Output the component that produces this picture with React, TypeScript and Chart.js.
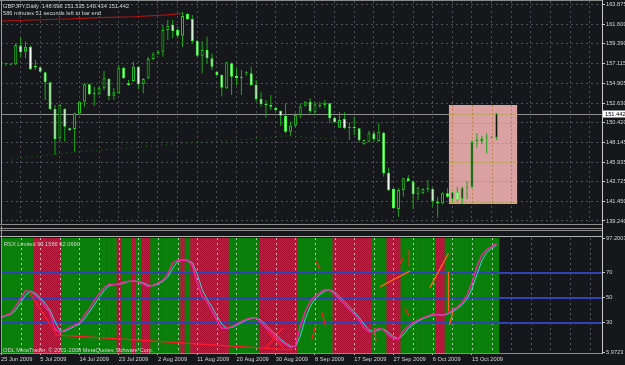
import React, { useEffect, useRef } from 'react';
import { Chart, registerables } from 'chart.js';
Chart.register(...registerables);

// ---------- price data (daily GBPJPY bars, oldest first) ----------
const opens = [156.95,157.03,157.03,157.03,159.15,158.46,159.03,156.78,156.69,156.12,
  154.98,151.96,148.63,151.96,149.76,149.69,151.46,152.79,154.76,153.73,
  153.62,154.30,155.36,153.47,153.73,156.65,154.87,155.13,156.76,154.76,
  155.44,157.63,158.27,158.46,160.92,161.49,160.92,160.28,162.74,162.17,
  159.68,158.01,158.65,157.71,156.19,155.82,154.30,157.14,155.74,155.44,
  156.00,156.00,154.68,153.09,152.52,152.41,152.11,151.73,151.20,149.38,
  150.06,151.27,152.33,152.79,151.58,152.30,152.41,152.60,150.97,149.84,
  150.82,149.86,149.84,149.76,147.94,148.25,149.19,148.32,149.27,144.72,
  142.90,140.60,142.76,144.09,143.71,142.27,142.38,142.87,142.87,141.44,
  141.25,142.38,141.74,142.50,141.74,143.00,143.03,148.25,148.25,148.70,
  148.70,148.696];
const highs = [158.35,157.14,157.10,159.41,160.09,159.60,159.15,157.52,156.76,156.19,
  155.06,152.41,152.49,152.03,149.84,151.54,152.86,154.87,154.83,154.49,
  154.57,156.27,155.44,154.30,156.95,156.72,155.25,157.33,156.84,155.44,
  157.90,158.39,158.65,161.49,162.06,162.06,161.19,162.99,162.82,162.63,
  159.79,159.68,160.17,158.27,156.27,155.89,157.33,157.25,156.57,156.38,
  156.27,156.76,155.25,153.92,152.98,153.55,152.18,151.80,152.60,150.52,
  151.46,152.60,152.86,153.17,152.79,152.79,152.98,152.67,151.08,151.58,
  151.58,150.44,151.08,149.76,148.50,149.46,149.46,150.33,149.38,145.30,
  142.95,142.95,144.16,144.46,143.90,143.14,142.95,143.90,142.95,142.00,
  142.50,142.95,142.57,143.14,143.14,143.78,148.44,149.19,148.93,149.19,
  148.93,151.535];
const lows = [155.82,156.87,156.90,156.95,157.90,157.71,156.38,156.38,156.12,152.98,
  151.84,146.73,148.25,148.25,149.46,147.11,151.27,152.22,153.55,152.33,
  153.55,154.11,152.98,152.98,153.66,155.36,154.60,155.06,154.23,153.73,
  155.36,157.52,158.09,157.90,159.79,159.98,159.98,159.03,162.06,159.41,
  157.90,156.00,157.14,156.38,155.74,153.36,154.23,153.55,154.68,153.55,
  155.74,154.60,152.79,152.22,150.97,151.84,151.73,150.06,149.19,148.93,
  149.84,150.90,152.22,151.46,151.27,152.03,152.03,150.33,150.33,149.80,
  149.69,148.44,149.00,148.17,147.90,148.17,148.25,148.25,144.27,142.65,
  140.60,139.73,142.00,143.71,140.60,141.63,142.30,142.50,140.87,139.62,
  141.13,141.81,141.51,141.44,141.13,141.74,142.95,147.57,147.94,146.92,
  148.63,148.434];
const closes = [157.33,157.05,157.00,159.22,158.39,159.03,156.50,156.72,156.19,154.98,
  151.96,148.55,152.41,149.95,149.57,151.46,152.79,154.76,153.62,153.62,
  154.38,155.44,153.43,153.85,156.65,155.44,154.68,156.76,154.76,155.36,
  157.63,158.16,158.46,160.92,161.42,160.81,160.28,162.51,162.17,159.68,
  158.01,158.65,157.71,156.76,155.82,154.38,157.25,155.63,155.44,155.63,
  156.01,154.68,153.09,152.49,152.41,152.22,151.84,151.20,149.38,150.06,
  151.27,152.22,152.79,151.73,152.49,152.41,152.67,150.90,150.44,150.71,
  149.76,149.82,149.80,148.44,148.44,149.19,148.51,149.38,144.65,142.76,
  140.68,142.76,144.09,143.78,142.27,143.03,142.87,142.85,141.44,141.25,
  142.38,142.00,142.50,141.63,143.03,143.05,148.25,148.51,148.63,148.81,
  148.81,151.442];

// upper red line and dotted dark-green trend (bar index, price)
const highLineBars = [0, 6.5, 13.4, 20.2, 27, 33.8, 36.9];
const highLineValues = [161.945, 162.06, 162.17, 162.32, 162.43, 162.63, 162.82];
const trendBars = [2.2, 6.5, 10, 13.5, 20.2, 23.6, 27.7, 31.8, 36.5, 41.2, 44.6, 50.1, 54.2, 57.5, 60.3, 63.6, 69];
const trendValues = [146.17, 146.54, 146.73, 146.99, 147.30, 147.41, 147.61, 147.79, 148.06, 148.17, 148.32, 148.52, 148.70, 148.89, 148.89, 148.63, 148.63];

// highlighted rectangle (bar index span, price span)
const boxBars = [91.3, 105.2];
const boxPrices = [141.17, 152.41];

// ---------- RSX sub-window ----------
const rsxMain = [35,36,37.3,43,49,55.5,55,52,48.2,43,
  37.5,25,22,24,26,28,30,36,41,47.5,
  53,58,60.8,60.3,61,62.3,63.2,63.4,62.6,61,
  58.8,60,61.8,64,69,78,80,80.2,79.8,76,
  62,51,46.5,39,32,25.5,25.5,26.8,28.8,31,
  32.8,34,34,30,26,22.5,18.5,15,12.5,10,
  11.5,27,38.8,46.8,51,54,56.5,56,52.8,48.7,
  45,40.8,36.5,32,26,22.5,23,25.5,24.2,20,
  17.5,17,23.5,27,30,32.3,34,35.3,36.7,36.3,
  36,37.5,40,42.5,46,52,62,75,84,88.5,
  90.8,93.1566];
const rsxSignal = [34,35.5,36.6,40,46,52,55.3,53.5,50,45.5,
  40,31,23.5,23,25,27,29,33,38.5,44,
  50,55.5,59.5,60.5,60.6,61.6,62.8,63.3,63,61.8,
  60,59.4,61,63,66.5,73.5,79,80.1,80,78,
  69,56.5,48.8,42.8,35.5,28.8,25.5,26.1,27.8,30,
  32,33.4,34,32,28,24.2,20.5,16.8,13.8,11.2,
  10.8,19,33,42.8,49,52.5,55.3,56.3,54.4,50.8,
  46.8,42.9,38.6,34.2,29,24.2,22.8,24.2,24.9,22,
  18.8,17.2,20.2,25.2,28.5,31.2,33.2,34.6,36,36.5,
  36.1,36.8,38.8,41.2,44.3,49,57,68.5,79.5,86.2,
  89.6,92.069];
const redZoneBars = [7,8,9,10,11,12,24,27,29,30,37,39,40,41,42,43,44,45,46,
  53,54,55,56,57,58,59,60,68,69,70,71,72,73,74,75,79,80,81,89,90];
// drawn divergence segments: [bar0, value0, bar1, value1]
const redSegments = [
  [5.6, 55.5, 11.2, 21.5], [11.0, 20.2, 59.3, 8.2], [53.8, 9.0, 57.5, 26.0], [54.2, 22.8, 57.6, 10.0],
  [63.3, 16.2, 64.2, 28.2], [64.2, 79.4, 65.1, 72.2], [65.4, 38.3, 66.2, 26.8], [76.2, 25.5, 76.4, 14.8],
  [81.3, 77.5, 82.0, 81.5], [83.2, 88.2, 83.2, 74.8], [82.3, 41.5, 83.2, 35.6]];
const orangeSegments = [
  [77.3, 58.8, 83.4, 71.4], [87.4, 58.0, 91.2, 85.5], [91.2, 70.8, 91.2, 39.4], [91.4, 28.2, 92.3, 41.5]];

// ---------- axes ----------
const barRange = [0, 122.5];
const priceRange = [139.126, 164.216];
const rsxRange = [5.73, 97.76];
const priceTicks = [163.875, 161.6, 159.39, 157.115, 154.905, 152.63, 150.42, 148.145, 145.935, 143.725, 141.45, 139.24];
const rsxTicks = [97.2003, 70, 50, 30, 5.9723];
const rsxTickLabels = ['97.2003', '70', '50', '30', '5.9723'];
const rsxLevels = [70, 50, 30];
const gridBars = [0,4,8,12,16,20,24,28,32,36,40,44,48,52,56,60,64,68,72,76,80,84,88,92,96,100,104,108,112,116,120];
const dateLabelBars = [0,8,16,24,32,40,48,56,64,72,80,88,96];
const dateLabels = ['25 Jun 2009','5 Jul 2009','14 Jul 2009','23 Jul 2009','2 Aug 2009','11 Aug 2009','20 Aug 2009','30 Aug 2009','8 Sep 2009','17 Sep 2009','27 Sep 2009','6 Oct 2009','15 Oct 2009'];

const FONT = '"Liberation Sans", Arial, sans-serif';
const TXT = '#d4d4d4';
const BG = '#15171a';
const GRID = '#4c4f56';

function hline(ctx: CanvasRenderingContext2D, x0: number, x1: number, y: number, color: string, w = 1) {
  ctx.strokeStyle = color; ctx.lineWidth = w;
  ctx.beginPath(); ctx.moveTo(x0, y); ctx.lineTo(x1, y); ctx.stroke();
}
function vline(ctx: CanvasRenderingContext2D, x: number, y0: number, y1: number, color: string, w = 1) {
  ctx.strokeStyle = color; ctx.lineWidth = w;
  ctx.beginPath(); ctx.moveTo(x, y0); ctx.lineTo(x, y1); ctx.stroke();
}

export default function App() {
  const topRef = useRef<HTMLCanvasElement>(null);
  const botRef = useRef<HTMLCanvasElement>(null);

  useEffect(() => {
    const last = closes.length - 1;
    const idx = closes.map((_, i) => i);
    const bull = idx.map(i => closes[i] >= opens[i]);

    const topDecor = {
      id: 'topDecor',
      beforeDatasetsDraw(chart: any) {
        const { ctx, chartArea: a, scales } = chart;
        const x = scales.x, y = scales.y;
        ctx.save();
        const pl = Math.round(y.getPixelForValue(closes[last])) + 0.5;
        hline(ctx, a.left, a.right, pl, '#8e8e8e');
        const bx0 = x.getPixelForValue(boxBars[0]), bx1 = x.getPixelForValue(boxBars[1]);
        const by0 = y.getPixelForValue(boxPrices[1]), by1 = y.getPixelForValue(boxPrices[0]);
        ctx.fillStyle = '#d9a1a1';
        ctx.fillRect(bx0, by0, bx1 - bx0, by1 - by0);
        ctx.beginPath(); ctx.rect(bx0, by0, bx1 - bx0, by1 - by0); ctx.clip();
        ctx.setLineDash([2, 2]);
        for (const g of gridBars) {
          const px = Math.round(x.getPixelForValue(g)) + 0.5;
          vline(ctx, px, by0, by1, '#c0844e');
        }
        for (const t of [...priceTicks, closes[last]]) {
          const py = Math.round(y.getPixelForValue(t)) + 0.5;
          hline(ctx, bx0, bx1, py, '#a9a53c');
        }
        ctx.restore();
      },
      afterDraw(chart: any) {
        const { ctx, chartArea: a, scales } = chart;
        const y = scales.y;
        ctx.save();
        hline(ctx, 0, a.right, 0.5, '#8a8a8a');
        vline(ctx, 1.5, 0, 225, '#9c9c9c');
        hline(ctx, 0, a.right, 224.5, '#8c8c8c');
        vline(ctx, a.right + 0.5, 0, 226, '#c8c8c8');
        ctx.font = `5.7px ${FONT}`;
        ctx.textBaseline = 'middle';
        ctx.fillStyle = TXT;
        const f = (v: number) => v.toFixed(3);
        ctx.fillText(`GBPJPY,Daily  ${f(opens[last])} ${f(highs[last])} ${f(lows[last])} ${f(closes[last])}`, 3, 6.5);
        ctx.fillText('586 minutes 51 seconds left to bar end', 3, 13.5);
        const py = y.getPixelForValue(closes[last]);
        ctx.fillStyle = '#ffffff';
        ctx.fillRect(a.right + 1, Math.round(py) - 3.5, 22, 7);
        ctx.fillStyle = '#000000';
        ctx.fillText(f(closes[last]), a.right + 3, py + 0.5);
        ctx.restore();
      },
    };

    const top = new Chart(topRef.current as HTMLCanvasElement, {
      type: 'bar',
      data: {
        datasets: [
          {
            type: 'line', label: 'highs line',
            data: highLineBars.map((b, k) => ({ x: b, y: highLineValues[k] })),
            borderColor: '#b01414', borderWidth: 1.2, pointRadius: 0, order: 0,
          } as any,
          {
            label: 'bodies',
            data: idx.map(i => ({ x: i, y: [Math.min(opens[i], closes[i]), Math.max(opens[i], closes[i])] })),
            backgroundColor: idx.map(i => (bull[i] ? '#0a150a' : '#ffffff')),
            borderColor: idx.map(i => (bull[i] ? '#22c822' : '#36ff36')),
            borderWidth: 1, borderSkipped: false, grouped: false, maxBarThickness: 3, minBarLength: 1, order: 1,
          } as any,
          {
            label: 'wicks',
            data: idx.map(i => ({ x: i, y: [lows[i], highs[i]] })),
            backgroundColor: '#1aa81a', borderWidth: 0, grouped: false, maxBarThickness: 1, order: 2,
          } as any,
          {
            type: 'line', label: 'trend',
            data: trendBars.map((b, k) => ({ x: b, y: trendValues[k] })),
            borderColor: '#167816', borderWidth: 1, borderDash: [1, 4], pointRadius: 0, order: 3,
          } as any,
        ],
      },
      options: {
        animation: false, responsive: false, maintainAspectRatio: false, events: [],
        layout: { padding: { left: 1, top: 1, right: 0, bottom: 4 } },
        plugins: { legend: { display: false }, tooltip: { enabled: false } },
        scales: {
          x: {
            type: 'linear', min: barRange[0], max: barRange[1], offset: false,
            afterBuildTicks: (s: any) => { s.ticks = gridBars.map(v => ({ value: v })); },
            afterFit: (s: any) => { s.height = 0; s.paddingLeft = 0; s.paddingRight = 0; },
            ticks: { display: false },
            grid: { offset: false, color: GRID, drawTicks: false },
            border: { display: false, dash: [2, 3] },
          },
          y: {
            type: 'linear', position: 'right', min: priceRange[0], max: priceRange[1],
            afterBuildTicks: (s: any) => { s.ticks = priceTicks.map(v => ({ value: v })); },
            afterFit: (s: any) => { s.width = 23; s.paddingTop = 0; s.paddingBottom = 0; },
            ticks: { color: TXT, font: { family: FONT, size: 5.7 }, padding: 1, autoSkip: false, callback: (v: any) => Number(v).toFixed(3) },
            grid: { color: GRID, tickColor: '#c8c8c8', tickLength: 3, drawTicks: true },
            border: { display: false, dash: [2, 3] },
          },
        },
      } as any,
      plugins: [topDecor],
    });

    // red dithered pattern
    const pc = document.createElement('canvas');
    pc.width = 2; pc.height = 2;
    const pctx = pc.getContext('2d') as CanvasRenderingContext2D;
    pctx.fillStyle = '#e8142f'; pctx.fillRect(0, 0, 2, 2);
    pctx.fillStyle = '#a80c2e'; pctx.fillRect(0, 0, 1, 1); pctx.fillRect(1, 1, 1, 1);
    const botCtx = (botRef.current as HTMLCanvasElement).getContext('2d') as CanvasRenderingContext2D;
    const redPattern = botCtx.createPattern(pc, 'repeat');

    const segData = (segs: number[][]) => segs.flatMap(([b0, v0, b1, v1]) => [{ x: b0, y: v0 }, { x: b1, y: v1 }, { x: b1, y: null }]);
    const greenIdx = idx.filter(i => !redZoneBars.includes(i));

    const botDecor = {
      id: 'botDecor',
      afterDatasetDraw(chart: any, args: any) {
        if (args.index !== 4) return;
        const { ctx, chartArea: a, scales } = chart;
        const x = scales.x, y = scales.y;
        const zoneEnd = x.getPixelForValue(last + 0.5);
        ctx.save();
        ctx.setLineDash([2, 3]);
        for (const g of gridBars) {
          const px = Math.round(x.getPixelForValue(g)) + 0.5;
          if (px < a.left || px > a.right) continue;
          vline(ctx, px, a.top, a.bottom, px < zoneEnd ? 'rgba(215,215,215,0.8)' : '#55585f');
        }
        ctx.setLineDash([]);
        for (const lv of rsxLevels) {
          const py = Math.round(y.getPixelForValue(lv));
          hline(ctx, a.left, a.right, py, '#3043b6', 2);
        }
        ctx.restore();
      },
      afterDraw(chart: any) {
        const { ctx, chartArea: a } = chart;
        ctx.save();
        hline(ctx, 0, a.right, 2.5, '#8c8c8c');
        hline(ctx, 0, a.right, 4.5, '#8c8c8c');
        hline(ctx, 0, a.right, 10.5, '#b2b2b2');
        vline(ctx, 1.5, 0, a.bottom, '#9c9c9c');
        hline(ctx, 0, a.right, a.bottom + 0.5, '#8c8c8c');
        vline(ctx, a.right + 0.5, 0, a.bottom + 1, '#c8c8c8');
        ctx.font = `5.7px ${FONT}`;
        ctx.textBaseline = 'middle';
        ctx.fillStyle = TXT;
        const lastR = rsxMain.length - 1;
        ctx.fillText(`RSX Limited ${rsxMain[lastR].toFixed(4)} ${rsxSignal[lastR].toFixed(4)}`, 4, 18.5);
        ctx.fillText('ODL MetaTrader, © 2001-2008 MetaQuotes Software Corp.', 3, 124);
        ctx.restore();
      },
    };

    const bot = new Chart(botRef.current as HTMLCanvasElement, {
      type: 'bar',
      data: {
        datasets: [
          { type: 'line', label: 'RSX', data: idx.map(i => ({ x: i, y: rsxMain[i] })), borderColor: '#f0249e', borderWidth: 1.5, pointRadius: 0, order: 1 } as any,
          { type: 'line', label: 'Signal', data: idx.map(i => ({ x: i, y: rsxSignal[i] })), borderColor: '#3ad2d2', borderWidth: 1, pointRadius: 0, order: 2 } as any,
          { type: 'line', label: 'red lines', data: segData(redSegments), borderColor: '#ff1a2c', borderWidth: 1.3, pointRadius: 0, spanGaps: false, order: 3 } as any,
          { type: 'line', label: 'orange lines', data: segData(orangeSegments), borderColor: '#ff6414', borderWidth: 1.3, pointRadius: 0, spanGaps: false, order: 4 } as any,
          { label: 'green zone', data: greenIdx.map(i => ({ x: i, y: [rsxRange[0], rsxRange[1]] })), backgroundColor: '#0a7f0a', borderWidth: 0, grouped: false, barPercentage: 1, categoryPercentage: 1, order: 5 } as any,
          { label: 'red zone', data: redZoneBars.map(i => ({ x: i, y: [rsxRange[0], rsxRange[1]] })), backgroundColor: redPattern, borderWidth: 0, grouped: false, barPercentage: 1, categoryPercentage: 1, order: 6 } as any,
        ],
      },
      options: {
        animation: false, responsive: false, maintainAspectRatio: false, events: [],
        layout: { padding: { left: 1, top: 12, right: 0, bottom: 0 } },
        plugins: { legend: { display: false }, tooltip: { enabled: false } },
        scales: {
          x: {
            type: 'linear', min: barRange[0], max: barRange[1], offset: false,
            afterBuildTicks: (s: any) => { s.ticks = gridBars.map(v => ({ value: v })); },
            afterFit: (s: any) => { s.height = 12; s.paddingLeft = 0; s.paddingRight = 0; },
            ticks: {
              color: TXT, font: { family: FONT, size: 5.7 }, padding: 1, autoSkip: false, maxRotation: 0, align: 'start',
              callback: (v: any) => { const k = dateLabelBars.indexOf(Number(v)); return k >= 0 ? dateLabels[k] : ''; },
            },
            grid: {
              offset: false, drawOnChartArea: false, drawTicks: true, tickLength: 2,
              tickColor: (c: any) => (c.tick && dateLabelBars.includes(c.tick.value) ? '#c0c0c0' : 'rgba(0,0,0,0)'),
            },
            border: { display: false },
          },
          y: {
            type: 'linear', position: 'right', min: rsxRange[0], max: rsxRange[1],
            afterBuildTicks: (s: any) => { s.ticks = rsxTicks.map(v => ({ value: v })); },
            afterFit: (s: any) => { s.width = 23; s.paddingTop = 0; s.paddingBottom = 0; },
            ticks: { color: TXT, font: { family: FONT, size: 5.7 }, padding: 1, autoSkip: false, callback: (_v: any, i: number) => rsxTickLabels[i] },
            grid: { drawOnChartArea: false, drawTicks: true, tickLength: 3, tickColor: '#c8c8c8' },
            border: { display: false },
          },
        },
      } as any,
      plugins: [botDecor],
    });

    return () => { top.destroy(); bot.destroy(); };
  }, []);

  return (
    <div style={{ position: 'fixed', left: 0, top: 0, width: 625, height: 365, background: BG, overflow: 'hidden' }}>
      <canvas ref={topRef} width={625} height={226} style={{ position: 'absolute', left: 0, top: 0, width: 625, height: 226 }} />
      <canvas ref={botRef} width={625} height={139} style={{ position: 'absolute', left: 0, top: 226, width: 625, height: 139 }} />
    </div>
  );
}
